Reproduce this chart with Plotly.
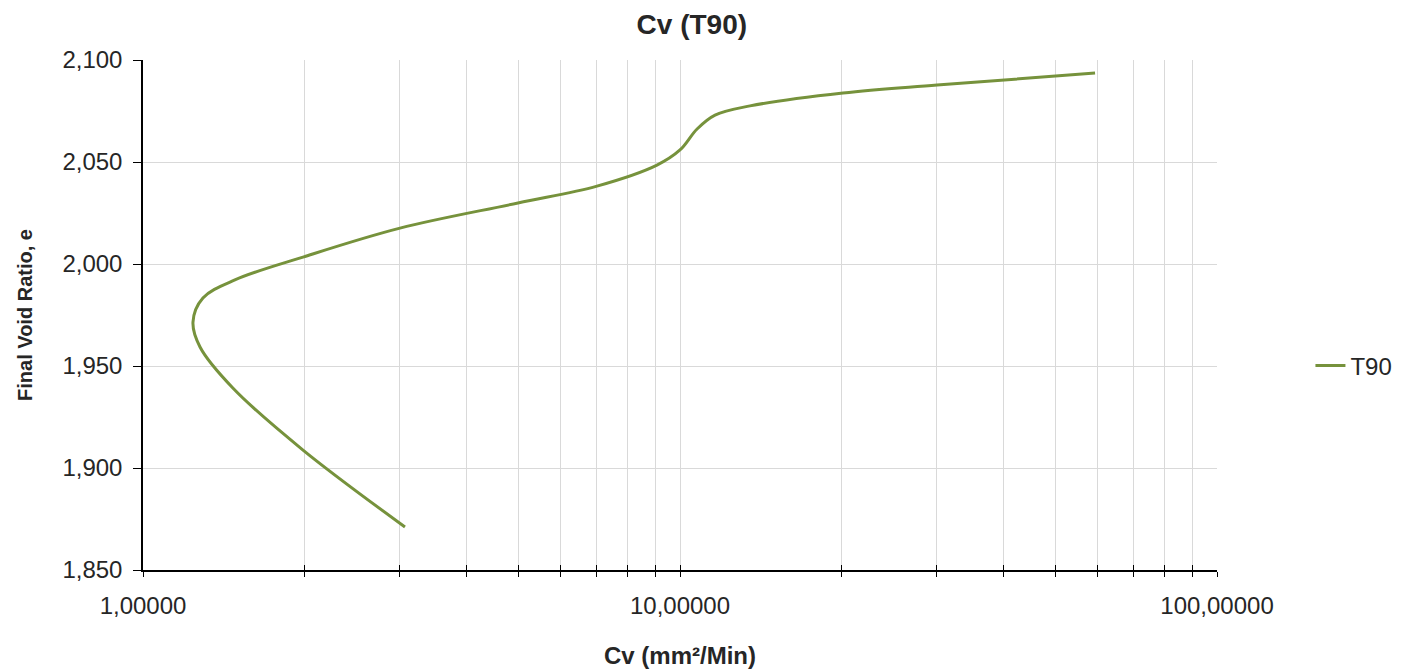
import plotly.graph_objects as go

# Values (Cv in mm²/Min, final void ratio e)
cv_t90 = [3.075, 1.986, 1.470, 1.277, 1.239, 1.293, 1.483, 1.986, 3.010, 4.992,
          7.005, 9.06, 10.0, 10.76, 11.62, 13.5, 20.12, 30.11, 59.28]
e_t90 = [1.8711, 1.9088, 1.9392, 1.9593, 1.9715, 1.9833, 1.9922, 2.0034, 2.0176,
         2.0299, 2.0382, 2.0485, 2.0559, 2.0662, 2.073, 2.0775, 2.0838, 2.0877,
         2.0936]

y_ticks = [1.85, 1.90, 1.95, 2.00, 2.05, 2.10]
y_tick_text = ["1,850", "1,900", "1,950", "2,000", "2,050", "2,100"]
x_ticks = [1, 10, 100]
x_tick_text = ["1,00000", "10,00000", "100,00000"]
x_minor = [2, 3, 4, 5, 6, 7, 8, 9, 20, 30, 40, 50, 60, 70, 80, 90]

FONT = "Liberation Sans, Arial, sans-serif"
GRID = "#d9d9d9"
TXT = "#262626"

fig = go.Figure()
fig.add_trace(go.Scatter(
    x=cv_t90, y=e_t90, mode="lines", name="T90",
    line=dict(color="#76923C", width=3, shape="spline", smoothing=1.0),
))
# helper trace on an overlaying axis so the x ticks cross the axis line
fig.add_trace(go.Scatter(x=[1, 100], y=[1.85, 1.85], xaxis="x2", mode="lines",
                         line=dict(width=0), showlegend=False, hoverinfo="skip"))

fig.update_layout(
    width=1416, height=672,
    paper_bgcolor="white", plot_bgcolor="white",
    margin=dict(l=135, r=207, t=52, b=110),
    font=dict(family=FONT, color=TXT),
    title=dict(text="<b>Cv (T90)</b>", x=0.511, xref="paper", xanchor="center",
               y=0.976, yref="container", yanchor="middle",
               font=dict(size=28, color=TXT, family=FONT)),
    xaxis=dict(
        type="log", range=[0, 2],
        tickmode="array", tickvals=x_ticks, ticktext=x_tick_text,
        tickfont=dict(size=24, color=TXT),
        ticks="outside", ticklen=5, tickcolor="black", tickwidth=1,
        ticklabelstandoff=8,
        showgrid=True, gridcolor=GRID, gridwidth=1,
        minor=dict(tickmode="array", tickvals=x_minor, ticks="outside", ticklen=5,
                   tickcolor="black", showgrid=True, gridcolor=GRID, gridwidth=1),
        showline=True, linecolor="black", linewidth=1.5,
        zeroline=False,
        title=dict(text="<b>Cv (mm²/Min)</b>", font=dict(size=24, color=TXT),
                   standoff=30),
    ),
    xaxis2=dict(
        type="log", range=[0, 2], overlaying="x", anchor="y",
        tickmode="array", tickvals=x_ticks, showticklabels=False,
        ticks="inside", ticklen=5, tickcolor="black",
        minor=dict(tickmode="array", tickvals=x_minor, ticks="inside", ticklen=5,
                   tickcolor="black", showgrid=False),
        showgrid=False, showline=False, zeroline=False,
    ),
    yaxis=dict(
        range=[1.85, 2.10],
        tickmode="array", tickvals=y_ticks, ticktext=y_tick_text,
        tickfont=dict(size=24, color=TXT),
        ticks="outside", ticklen=8, tickcolor="black", tickwidth=1,
        ticklabelstandoff=6,
        showgrid=True, gridcolor=GRID, gridwidth=1,
        showline=True, linecolor="black", linewidth=1.5,
        zeroline=False,
        title=dict(text="<b>Final Void Ratio, e</b>", font=dict(size=20, color=TXT),
                   standoff=24),
    ),
    legend=dict(x=1.087, xanchor="left", y=0.4, yanchor="middle",
                font=dict(size=24, color=TXT), bgcolor="rgba(0,0,0,0)"),
    showlegend=True,
)

fig.write_html("out.html")
